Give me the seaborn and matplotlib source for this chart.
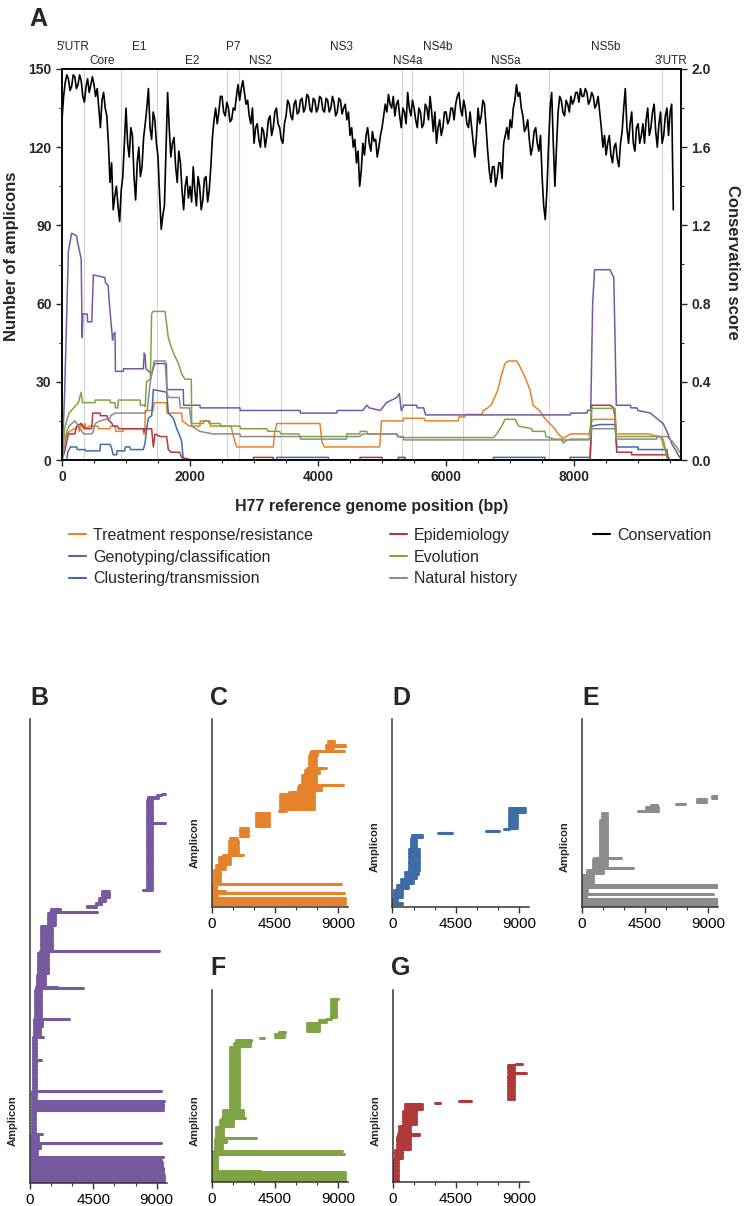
import numpy as np
import pandas as pd
import matplotlib
matplotlib.use("Agg")
import matplotlib.pyplot as plt
import matplotlib.transforms as mtransforms
from matplotlib.lines import Line2D
from matplotlib.ticker import MultipleLocator, FormatStrFormatter
import seaborn as sns

sns.set_style("ticks")
plt.rcParams["font.family"] = ["Liberation Sans", "DejaVu Sans"]

# ----------------------------
# Panel A data
# ----------------------------
gene_names = ["5'UTR", "Core", "E1", "E2", "P7", "NS2", "NS3",
              "NS4a", "NS4b", "NS5a", "NS5b", "3'UTR"]
gene_starts = [1, 342, 915, 1491, 2580, 2769, 3420, 5313, 5475, 6258, 7602, 9377]
gene_ends = [341, 914, 1490, 2579, 2768, 3419, 5312, 5474, 6257, 7601, 9376, 9646]

# conservation score at 0, 50, 100 ... 9550 bp
cons_main = [
    1.74, 1.93, 1.95, 1.91, 1.96, 1.92, 1.94, 1.83, 1.95, 1.92,
    1.92, 1.90, 1.70, 1.88, 1.76, 1.42, 1.28, 1.40, 1.22, 1.45,
    1.80, 1.55, 1.66, 1.33, 1.60, 1.50, 1.72, 1.90, 1.64, 1.74,
    1.55, 1.18, 1.30, 1.88, 1.55, 1.65, 1.42, 1.52, 1.28, 1.45,
    1.40, 1.50, 1.30, 1.40, 1.33, 1.45, 1.38, 1.65, 1.80, 1.78,
    1.86, 1.76, 1.80, 1.74, 1.79, 1.92, 1.90, 1.88, 1.84, 1.72,
    1.62, 1.72, 1.60, 1.68, 1.66, 1.76, 1.70, 1.80, 1.70, 1.62,
    1.76, 1.82, 1.74, 1.84, 1.78, 1.85, 1.80, 1.86, 1.78, 1.84,
    1.80, 1.85, 1.78, 1.84, 1.80, 1.83, 1.78, 1.84, 1.80, 1.74,
    1.66, 1.60, 1.52, 1.40, 1.62, 1.66, 1.62, 1.68, 1.64, 1.60,
    1.70, 1.82, 1.87, 1.80, 1.76, 1.84, 1.70, 1.78, 1.88, 1.76,
    1.80, 1.70, 1.78, 1.72, 1.80, 1.86, 1.68, 1.62, 1.74, 1.70,
    1.78, 1.74, 1.80, 1.82, 1.88, 1.76, 1.80, 1.70, 1.70, 1.55,
    1.80, 1.76, 1.82, 1.58, 1.42, 1.50, 1.45, 1.52, 1.62, 1.70,
    1.74, 1.80, 1.92, 1.88, 1.76, 1.70, 1.64, 1.60, 1.70, 1.58,
    1.45, 1.23, 1.60, 1.88, 1.40, 1.78, 1.84, 1.76, 1.82, 1.86,
    1.84, 1.88, 1.90, 1.86, 1.88, 1.84, 1.86, 1.82, 1.78, 1.60,
    1.56, 1.66, 1.52, 1.62, 1.50, 1.68, 1.90, 1.62, 1.78, 1.58,
    1.72, 1.66, 1.62, 1.80, 1.70, 1.82, 1.60, 1.78, 1.66, 1.80,
    1.78, 1.28,
]
# conservation score at 25, 75, 125 ... 9525 bp
cons_mid = [
    1.86, 1.97, 1.89, 1.97, 1.90, 1.97, 1.86, 1.91, 1.88, 1.96,
    1.86, 1.80, 1.84, 1.80, 1.62, 1.52, 1.35, 1.30, 1.38, 1.62,
    1.62, 1.70, 1.45, 1.52, 1.45, 1.65, 1.80, 1.70, 1.78, 1.62,
    1.35, 1.25, 1.60, 1.70, 1.62, 1.50, 1.58, 1.38, 1.40, 1.34,
    1.32, 1.38, 1.45, 1.28, 1.44, 1.32, 1.50, 1.74, 1.72, 1.86,
    1.78, 1.83, 1.73, 1.80, 1.86, 1.84, 1.94, 1.82, 1.76, 1.80,
    1.70, 1.64, 1.70, 1.60, 1.74, 1.66, 1.78, 1.72, 1.64, 1.72,
    1.84, 1.76, 1.82, 1.77, 1.84, 1.78, 1.87, 1.79, 1.85, 1.78,
    1.86, 1.79, 1.85, 1.78, 1.86, 1.76, 1.85, 1.77, 1.82, 1.78,
    1.70, 1.64, 1.58, 1.48, 1.56, 1.70, 1.58, 1.63, 1.55, 1.66,
    1.76, 1.78, 1.82, 1.86, 1.82, 1.76, 1.80, 1.72, 1.80, 1.84,
    1.74, 1.80, 1.70, 1.82, 1.74, 1.78, 1.78, 1.70, 1.66, 1.78,
    1.72, 1.80, 1.74, 1.86, 1.80, 1.84, 1.72, 1.78, 1.62, 1.66,
    1.72, 1.84, 1.70, 1.48, 1.50, 1.40, 1.52, 1.44, 1.66, 1.64,
    1.70, 1.84, 1.86, 1.80, 1.68, 1.74, 1.56, 1.68, 1.62, 1.66,
    1.30, 1.38, 1.80, 1.62, 1.60, 1.86, 1.78, 1.84, 1.78, 1.82,
    1.88, 1.83, 1.86, 1.90, 1.82, 1.88, 1.80, 1.86, 1.70, 1.66,
    1.62, 1.56, 1.60, 1.54, 1.62, 1.80, 1.70, 1.72, 1.62, 1.70,
    1.62, 1.72, 1.74, 1.66, 1.78, 1.68, 1.72, 1.62, 1.76, 1.66,
    1.82,
]

# number of amplicons covering each position, per study aim (x, y vertices)
treat_x = [0, 30, 73, 120, 200, 255, 270, 290, 330, 360, 380, 430, 560, 570, 750, 760, 830, 840, 955, 960,
           1270, 1275, 1295, 1300, 1425, 1437, 1635, 1640, 1870, 1880, 1990, 2155, 2160, 2310, 2320, 2640,
           2700, 2730, 3300, 3320, 3355, 4030, 4060, 4100, 4960, 4970, 4990, 5330, 5340, 5660, 5670, 6190,
           6200, 6290, 6300, 6560, 6580, 6650, 6700, 6760, 6810, 6870, 6920, 6970, 7100, 7150, 7230, 7310,
           7360, 7460, 7540, 7620, 7700, 7750, 7830, 7880, 7940, 8200, 8230, 8270, 8300, 8640, 8660, 9190,
           9200, 9340, 9390, 9450, 9500]
treat_y = [0, 8, 10, 11, 12, 13, 11, 14, 12, 14, 12, 13, 13, 12, 12, 13, 13, 11, 11, 12,
           12, 10, 10, 19, 19, 22, 22, 18, 18, 15, 13, 13, 15, 15, 13, 13,
           7, 5, 5, 10, 14, 14, 7, 5, 5, 7, 15, 15, 16, 16, 15, 15,
           16.5, 16.5, 17.5, 17.5, 19, 20, 21, 24, 27, 33, 37, 38, 38, 36, 32, 27,
           21, 19, 16, 14, 12, 10, 8.3, 9, 10, 10, 9.6, 14.6, 15.6, 15.6, 10, 10,
           9.6, 9, 8, 2, 0]

geno_x = [0, 40, 100, 150, 230, 240, 300, 315, 325, 395, 400, 465, 490, 670, 680, 720, 740, 790, 800, 828,
          835, 955, 960, 1270, 1285, 1300, 1310, 1400, 1437, 1445, 1630, 1640, 1895, 1900, 2155, 2160, 2780,
          2785, 3720, 3725, 4290, 4300, 4700, 4760, 4800, 4970, 5070, 5230, 5270, 5300, 5340, 5540, 5550,
          5650, 5680, 7940, 7950, 8200, 8210, 8260, 8290, 8320, 8560, 8620, 8660, 8880, 8890, 8980, 9000,
          9190, 9290, 9390, 9450, 9530, 9580, 9650]
geno_y = [0, 25, 80, 87, 86, 84, 77, 47, 56, 56, 53, 53, 71, 70, 68, 67, 60, 46, 48, 49,
          34, 34, 35, 35, 41, 40, 35, 33, 36, 37, 37, 27, 27, 21, 21, 20, 20,
          19, 19, 18, 18, 19, 19, 21, 20, 19, 22, 24, 25.5, 19, 21, 21, 20,
          20, 17.3, 17.3, 18, 18, 19, 19, 60, 73, 73, 70, 21, 21, 20, 20, 19,
          18, 16, 14, 11, 6, 4, 1]

clust_x = [0, 73, 90, 130, 230, 240, 360, 370, 594, 600, 750, 770, 800, 854, 860, 980, 990, 1060, 1070,
           1270, 1297, 1323, 1349, 1401, 1427, 1635, 1661, 1740, 1792, 1844, 1870, 1896, 3354, 3354, 4161,
           4161, 6740, 6740, 7547, 7547, 7938, 7938, 8250, 8276, 8400, 8640, 8666, 9000, 9000, 9450, 9470]
clust_y = [0, 0, 3, 5, 5, 4, 4, 3.5, 3.5, 6, 6, 5, 2, 2, 3.5, 3.5, 5, 5, 4,
           4, 6.4, 12, 16, 17, 27, 26, 18, 16, 12, 9, 7, 0, 0, 1, 1,
           0, 0, 1, 1, 0, 0, 1, 1, 13, 13.6, 13.6, 5, 5, 4, 4, 0]

epid_x = [0, 50, 73, 100, 200, 230, 300, 360, 465, 480, 594, 600, 700, 720, 780, 800, 870, 880, 1270,
          1280, 1300, 1400, 1427, 1453, 1530, 1635, 1661, 1700, 1840, 1870, 2026, 2990, 2990, 3300, 3300,
          4656, 4656, 5000, 5000, 5255, 5255, 5360, 5360, 8250, 8276, 8563, 8615, 8641, 8666, 8900, 8900,
          9450, 9470]
epid_y = [0, 4, 7, 10, 10, 13, 14, 12, 12, 18, 18, 17, 17, 15.5, 14, 13, 13, 12, 12,
          11, 12, 12, 5, 10, 9, 9, 4, 3, 3, 1, 0, 0, 1, 1, 0,
          0, 1, 1, 0, 0, 1, 1, 0, 0, 21, 21, 20, 16, 3, 3, 2,
          2, 0]

evol_x = [0, 40, 73, 110, 255, 300, 320, 516, 520, 750, 755, 828, 835, 870, 880, 1220, 1225, 1290, 1300,
          1320, 1380, 1400, 1420, 1610, 1660, 1710, 1760, 1820, 1870, 1920, 2020, 2026, 2208, 2220, 2286,
          2300, 2470, 2480, 2780, 2790, 3200, 3220, 3400, 3420, 3700, 3719, 4440, 4450, 4650, 4660, 4760,
          4770, 5230, 5240, 5330, 5340, 6740, 6790, 6870, 6920, 7080, 7130, 7340, 7350, 7545, 7560, 7690,
          7800, 7830, 7880, 7940, 8220, 8250, 8270, 8640, 8660, 9350, 9420, 9460]
evol_y = [0, 12, 15, 18, 22, 26, 22, 22, 23, 23, 22, 22, 20, 20, 23, 23, 21, 21, 20.5,
          30, 31, 56, 57, 57, 47, 43, 40, 37, 33, 31, 31, 14, 14, 15, 15,
          14, 14, 13, 13, 12, 12, 11, 11, 10, 10, 9, 9, 10, 10, 11, 11,
          10, 10, 9, 9, 8.6, 8.6, 10, 13, 15.6, 15.6, 13, 12, 11, 11, 9, 8,
          8, 6.5, 7.5, 8, 8, 8.5, 19.8, 19.8, 9, 9, 4, 0]

nat_x = [0, 60, 73, 110, 200, 230, 280, 340, 465, 490, 520, 590, 750, 760, 828, 1290, 1330, 1380, 1440,
         1610, 1640, 1660, 1830, 1850, 1990, 2026, 2150, 2360, 2780, 2790, 3720, 3730, 4440, 4450, 4650,
         4700, 5230, 5250, 5330, 5340, 8250, 8270, 8640, 8660, 9290, 9300, 9450, 9540, 9600, 9650]
nat_y = [0, 8, 11, 13, 15, 14, 12, 10, 10, 11, 14, 15, 16, 17, 18, 18, 19, 30, 38,
         38, 26, 24, 24, 20, 20, 13, 11, 10, 10, 9, 9, 8, 8, 9, 9,
         10, 10, 9, 8.6, 7.7, 7.7, 12, 12, 8, 8, 9, 9, 7, 5, 3]

# ----------------------------
# Amplicon data (start, end, number of amplicons), bottom to top
# ----------------------------
geno_amp_start = [0, 20, 40, 50, 50, 60, 70, 90, 100, 100, 110, 120, 150, 150, 160, 170, 170, 190, 200,
                  220, 230, 260, 290, 300, 350, 420, 450, 470, 550, 710, 750, 1250, 1420, 1500, 4050, 4700,
                  4900, 5100, 8000, 8280, 8300, 8300, 8400, 9000, 9350]
geno_amp_end = [9500, 9420, 9350, 9300, 950, 9420, 500, 700, 9330, 600, 880, 350, 9450, 1700, 9500, 400,
                9300, 420, 760, 450, 900, 700, 850, 2800, 780, 3800, 1900, 1100, 1300, 9150, 1550, 1800,
                4750, 2100, 4700, 5050, 5300, 5600, 8700, 8700, 9600, 8700, 9100, 9300, 9600]
geno_amp_n = [5, 5, 4, 1, 1, 1, 5, 4, 1, 5, 1, 15, 5, 1, 1, 6, 1, 20, 1,
              15, 1, 6, 5, 1, 20, 1, 1, 8, 15, 1, 17, 9, 1, 2, 2, 2,
              3, 5, 1, 44, 1, 16, 2, 1, 1]

treat_amp_start = [0, 20, 30, 30, 50, 60, 150, 300, 500, 800, 1200, 1300, 2000, 3150, 4750, 4850, 5500,
                   6100, 6200, 6400, 6650, 6800, 6900, 7000, 7050, 8100, 8100, 8300]
treat_amp_end = [9450, 400, 9420, 950, 300, 9200, 600, 950, 1300, 2250, 1850, 1800, 2600, 4100, 5300, 7250,
                 7300, 7800, 9350, 7400, 7650, 8150, 7400, 7500, 9400, 8600, 9450, 8700]
treat_amp_n = [5, 2, 1, 1, 3, 1, 8, 3, 5, 1, 8, 2, 6, 9, 1, 10, 1, 3, 1, 6, 3, 1, 7, 2, 1, 2, 2, 2]

clust_amp_start = [0, 0, 100, 350, 600, 900, 900, 1150, 1300, 1400, 3250, 6650, 7900, 8250, 8250, 8300]
clust_amp_end = [700, 300, 700, 1100, 1450, 1700, 1800, 1900, 1700, 2100, 4200, 7550, 8300, 8850, 9400, 9400]
clust_amp_n = [2, 2, 5, 3, 3, 2, 2, 13, 6, 2, 1, 1, 1, 9, 1, 2]

nat_amp_start = [0, 0, 0, 0, 50, 100, 350, 800, 800, 800, 900, 1300, 1450, 4000, 4600, 4950, 6700, 8200, 9250]
nat_amp_end = [9650, 300, 9300, 400, 9600, 800, 1500, 3650, 1500, 1800, 2800, 1800, 1800, 5400, 5400, 5350,
               7350, 8800, 9700]
nat_amp_n = [5, 2, 1, 4, 2, 7, 3, 1, 1, 5, 1, 25, 5, 1, 3, 1, 1, 3, 2]

evol_amp_start = [0, 0, 0, 50, 100, 100, 200, 250, 300, 300, 600, 700, 800, 1300, 1550, 1750, 3400, 4500,
                  4800, 6750, 7600, 8100, 8450, 8450]
evol_amp_end = [9500, 3400, 350, 9420, 5300, 9250, 700, 1000, 3150, 800, 1500, 2350, 2200, 1950, 2700, 2800,
                3750, 5150, 5200, 7600, 8100, 8450, 8800, 9000]
evol_amp_n = [6, 1, 10, 1, 1, 1, 5, 3, 1, 7, 5, 1, 5, 42, 3, 2, 1, 3, 1, 6, 2, 1, 12, 1]

epid_amp_start = [0, 150, 300, 400, 450, 700, 850, 3000, 4700, 8200, 8250, 8200, 8750]
epid_amp_end = [400, 650, 1200, 1900, 1200, 1650, 2100, 3350, 5550, 8600, 9500, 8600, 9200]
epid_amp_n = [13, 6, 8, 2, 5, 9, 4, 1, 1, 16, 1, 5, 1]

# ----------------------------
# Colours
# ----------------------------
c_treat = "#E5832B"
c_geno = "#76599F"
c_clust = "#3E6DA6"
c_epid = "#B0393A"
c_evol = "#7EA443"
c_nat = "#8C8C8C"

W, H = 745, 1206
fig = plt.figure(figsize=(W / 100, H / 100), dpi=100)


def box(left, top, right, bottom):
    return [left / W, 1 - bottom / H, (right - left) / W, (bottom - top) / H]


# ----------------------------
# Panel A
# ----------------------------
ax = fig.add_axes(box(62, 69, 681, 460))
ax2 = ax.twinx()

for b in gene_starts[1:]:
    ax.axvline(b, color="#d4d4d4", lw=0.8, zorder=0)

series = [
    (treat_x, treat_y, c_treat),
    (geno_x, geno_y, c_geno),
    (clust_x, clust_y, c_clust),
    (epid_x, epid_y, c_epid),
    (evol_x, evol_y, c_evol),
    (nat_x, nat_y, c_nat),
]
for xs, ys, col in series:
    sns.lineplot(x=xs, y=ys, ax=ax, color=col, lw=1.1, estimator=None, sort=False)

cons = pd.DataFrame({
    "pos": np.concatenate([np.arange(len(cons_main)) * 50, np.arange(len(cons_mid)) * 50 + 25]),
    "score": cons_main + cons_mid,
}).sort_values("pos")
sns.lineplot(data=cons, x="pos", y="score", ax=ax2, color="black", lw=1.2, estimator=None)

ax.set_xlim(0, 9670)
ax.set_ylim(0, 150)
ax2.set_ylim(0, 2.0)
ax.set_xticks([0, 2000, 4000, 6000, 8000])
ax.xaxis.set_minor_locator(MultipleLocator(500))
ax.set_yticks([0, 30, 60, 90, 120, 150])
ax.yaxis.set_minor_locator(MultipleLocator(15))
ax2.set_yticks([0, 0.4, 0.8, 1.2, 1.6, 2.0])
ax2.yaxis.set_minor_locator(MultipleLocator(0.2))
ax2.yaxis.set_major_formatter(FormatStrFormatter("%.1f"))

for a in (ax, ax2):
    a.tick_params(which="major", length=4, width=1.0, labelsize=10)
    a.tick_params(which="minor", length=2.5, width=0.8)
    for s in a.spines.values():
        s.set_linewidth(1.1)
        s.set_color("black")
for lab in ax.get_xticklabels() + ax.get_yticklabels() + ax2.get_yticklabels():
    lab.set_fontweight("bold")

ax.set_xlabel("H77 reference genome position (bp)", fontsize=11.5, fontweight="bold")
ax.xaxis.set_label_coords(0.5, -(507 - 460) / 391, transform=ax.transAxes)
ax.xaxis.label.set_va("center")
ax.set_ylabel("Number of amplicons", fontsize=12, fontweight="bold", va="center")
ax.yaxis.set_label_coords((12 - 62) / 619, 0.52)
ax2.set_ylabel("Conservation score", fontsize=12, fontweight="bold", rotation=270, va="center")
ax2.yaxis.set_label_coords(1 + (733 - 681) / 619, 0.505)

trans = mtransforms.blended_transform_factory(ax.transData, ax.transAxes)
for i, name in enumerate(gene_names):
    mid = (gene_starts[i] + gene_ends[i]) / 2
    yy = (460 - 47) / 391 if i % 2 == 0 else (460 - 61) / 391
    ax.text(mid, yy, name, transform=trans, ha="center", va="center", fontsize=8.5)

# legend, three columns placed by hand
legend_cols = [
    ([("Treatment response/resistance", c_treat), ("Genotyping/classification", c_geno),
      ("Clustering/transmission", c_clust)], 69),
    ([("Epidemiology", c_epid), ("Evolution", c_evol), ("Natural history", c_nat)], 390),
    ([("Conservation", "black")], 593),
]
for entries, xpx in legend_cols:
    handles = [Line2D([], [], color=c, lw=1.5, label=l) for l, c in entries]
    fig.legend(handles=handles, loc="upper left", bbox_to_anchor=(xpx / W, 1 - 528 / H),
               frameon=False, fontsize=11.5, handlelength=1.05, handletextpad=0.45,
               borderpad=0, borderaxespad=0, labelspacing=0.42)


# ----------------------------
# Panels B-G : amplicon positions
# ----------------------------
def amplicon_panel(rect, starts, ends, counts, color, ytop, label_frac):
    a = fig.add_axes(rect)
    s = np.repeat(starts, counts)
    e = np.repeat(ends, counts)
    n = len(s)
    df = pd.DataFrame({
        "pos": np.concatenate([s, e]),
        "idx": np.concatenate([np.arange(n), np.arange(n)]),
        "amp": np.concatenate([np.arange(n), np.arange(n)]),
    })
    sns.lineplot(data=df, x="pos", y="idx", units="amp", estimator=None, ax=a,
                 color=color, lw=2.2, solid_capstyle="round")
    a.set_xlim(0, 9700)
    a.set_ylim(-1.5, ytop)
    a.set_xticks([0, 4500, 9000])
    a.xaxis.set_minor_locator(MultipleLocator(1500))
    a.set_yticks([])
    a.tick_params(which="major", length=4, width=1.0, labelsize=11, colors="#333333")
    a.tick_params(which="minor", length=2.5, width=0.8, colors="#333333")
    a.tick_params(labelcolor="black")
    sns.despine(ax=a)
    for sp in ("left", "bottom"):
        a.spines[sp].set_color("#333333")
        a.spines[sp].set_linewidth(1.1)
    a.set_xlabel("")
    a.set_ylabel("Amplicon", fontsize=8, fontweight="bold", va="center")
    a.yaxis.set_label_coords(-0.128, label_frac)
    return a


amplicon_panel(box(30, 719, 166.5, 1183), geno_amp_start, geno_amp_end, geno_amp_n, c_geno, 314, 0.134)
amplicon_panel(box(211.7, 719, 348.2, 907), treat_amp_start, treat_amp_end, treat_amp_n, c_treat, 109, 0.34)
amplicon_panel(box(392.5, 719, 529, 907), clust_amp_start, clust_amp_end, clust_amp_n, c_clust, 104, 0.32)
amplicon_panel(box(581.7, 719, 718.2, 907), nat_amp_start, nat_amp_end, nat_amp_n, c_nat, 123, 0.32)
amplicon_panel(box(211.7, 990, 348.2, 1182), evol_amp_start, evol_amp_end, evol_amp_n, c_evol, 126, 0.32)
amplicon_panel(box(392.7, 990, 529.2, 1182), epid_amp_start, epid_amp_end, epid_amp_n, c_epid, 116, 0.32)

# panel letters
for letter, xp, yp in [("A", 29, 26), ("B", 30, 705), ("C", 210, 705), ("D", 392, 705),
                       ("E", 582, 705), ("F", 210, 975), ("G", 391, 975)]:
    fig.text(xp / W, 1 - yp / H, letter, fontsize=18, fontweight="bold", va="baseline", ha="left")

fig.savefig("out.png", dpi=100)
